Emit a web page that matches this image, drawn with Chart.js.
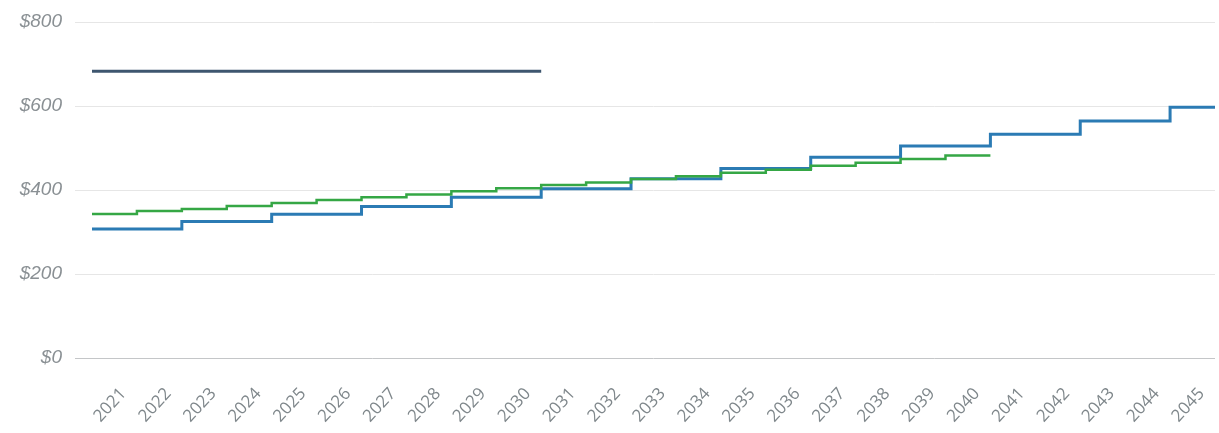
<!DOCTYPE html>
<html>
<head>
<meta charset="utf-8">
<script src="https://cdn.jsdelivr.net/npm/chart.js@4/dist/chart.umd.min.js"></script>
<style>
  html, body { margin: 0; padding: 0; background: #ffffff; }
  #wrap { width: 1219px; height: 433px; position: relative; }
</style>
</head>
<body>
<div id="wrap"><canvas id="chart"></canvas></div>
<script>
// Years shown on the horizontal axis
const years = [2021, 2022, 2023, 2024, 2025, 2026, 2027, 2028, 2029, 2030,
               2031, 2032, 2033, 2034, 2035, 2036, 2037, 2038, 2039, 2040,
               2041, 2042, 2043, 2044, 2045];

// Dollar ticks on the vertical axis
const yTicks = [0, 200, 400, 600, 800];

// Flat level, 2021-2030
const slateValues = [683, 683, 683, 683, 683, 683, 683, 683, 683, 683];

// Biennial steps, 2021-2045
const blueValues = [307, 307, 325, 325, 342, 342, 361, 361, 383, 383,
                    403, 403, 427, 427, 451, 451, 478, 478, 505, 505,
                    533, 533, 564, 564, 597];

// Annual steps, 2021-2040
const greenValues = [343, 350, 355, 362, 369, 376, 383, 389, 397, 404,
                     412, 418, 426, 433, 441, 448, 458, 465, 474, 482];

// Each yearly value spans its whole year on the axis: from year-0.5 to year+0.5
function yearSteps(values) {
  const pts = values.map((v, i) => ({ x: years[i] - 0.5, y: v }));
  const last = values.length - 1;
  pts.push({ x: years[last] + 0.5, y: values[last] });
  return pts;
}

const lineBase = {
  stepped: 'before',
  pointRadius: 0,
  pointHoverRadius: 0,
  fill: false,
  tension: 0,
  borderCapStyle: 'butt',
  borderJoinStyle: 'miter'
};

new Chart(document.getElementById('chart'), {
  type: 'line',
  data: {
    datasets: [
      Object.assign({}, lineBase, {
        label: 'Slate',
        data: yearSteps(slateValues),
        borderColor: '#3e566f',
        borderWidth: 3
      }),
      Object.assign({}, lineBase, {
        label: 'Green',
        data: yearSteps(greenValues),
        borderColor: '#35a745',
        borderWidth: 2.5
      }),
      Object.assign({}, lineBase, {
        label: 'Blue',
        data: yearSteps(blueValues),
        borderColor: '#2b7bb4',
        borderWidth: 3
      })
    ]
  },
  options: {
    responsive: true,
    maintainAspectRatio: false,
    animation: false,
    events: [],
    layout: { padding: { top: 22, right: 4, bottom: 0, left: 0 } },
    plugins: {
      legend: { display: false },
      tooltip: { enabled: false }
    },
    scales: {
      x: {
        type: 'linear',
        min: years[0] - 0.5,
        max: years[years.length - 1] + 0.5,
        afterBuildTicks: (scale) => {
          scale.ticks = years.map(y => ({ value: y }));
        },
        afterFit: (scale) => {
          scale.height = 75;
          scale.paddingLeft = 0;
          scale.paddingRight = 0;
        },
        grid: { display: false, drawTicks: false },
        border: { display: false },
        ticks: {
          autoSkip: false,
          minRotation: 47,
          maxRotation: 47,
          padding: 26,
          labelOffset: 9,
          color: '#7f878b',
          font: { family: '"Open Sans", "Liberation Sans", Arial, sans-serif', size: 17 },
          callback: (v) => String(v)
        }
      },
      y: {
        min: 0,
        max: 800,
        afterBuildTicks: (scale) => {
          scale.ticks = yTicks.map(v => ({ value: v }));
        },
        afterFit: (scale) => {
          scale.width = 92;
          scale.paddingTop = 0;
          scale.paddingBottom = 0;
        },
        border: { display: false },
        grid: {
          drawTicks: true,
          tickLength: 17,
          lineWidth: 1,
          color: (ctx) => (ctx.tick && ctx.tick.value === 0) ? '#c4c6c8' : '#e6e6e6'
        },
        ticks: {
          padding: 13,
          color: '#8a9094',
          font: { family: '"Liberation Sans", Arial, sans-serif', size: 19, style: 'italic' },
          callback: (v) => '$' + v
        }
      }
    }
  }
});
</script>
</body>
</html>
